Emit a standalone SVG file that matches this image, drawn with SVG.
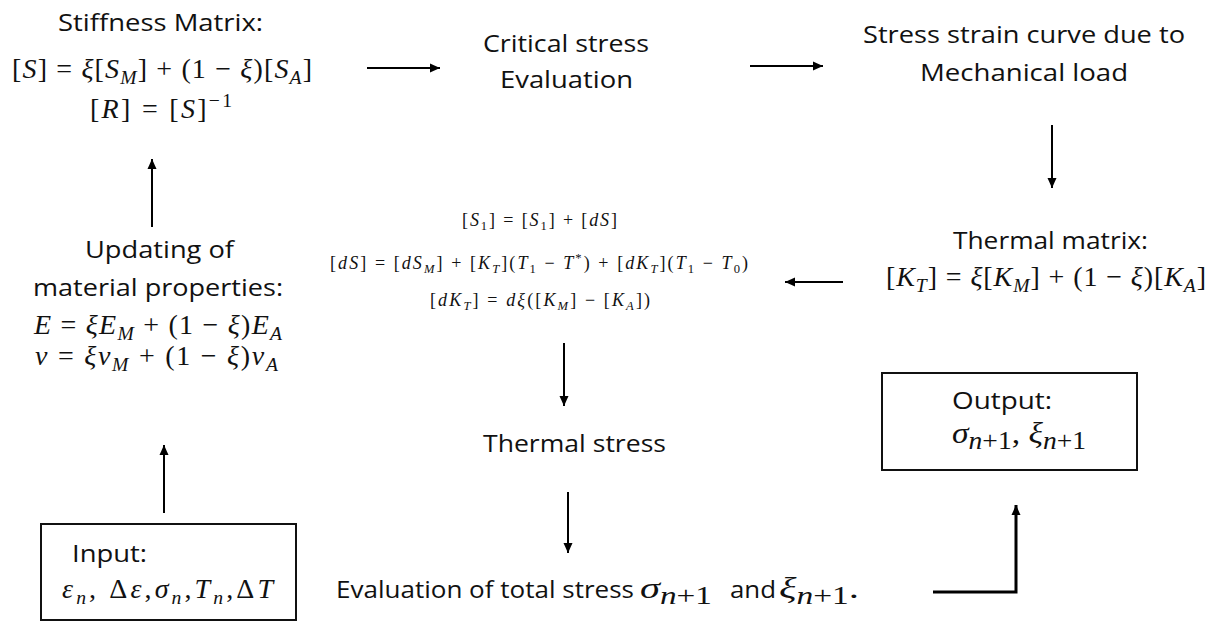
<svg xmlns="http://www.w3.org/2000/svg" width="1217" height="622" viewBox="0 0 1217 622">
<style>
.t{font-family:"Open Sans","Noto Sans",sans-serif;font-size:24px;fill:#111}
.m{font-family:"Liberation Serif","DejaVu Serif",serif;font-size:28px;fill:#111}
.mb{font-family:"Liberation Serif","DejaVu Serif",serif;font-size:30px;fill:#111}
.ms{font-family:"Liberation Serif","DejaVu Serif",serif;font-size:18px;fill:#111}
.i{font-style:italic}
.sb{font-size:70%}
.sb2{font-size:82%}
.box{fill:none;stroke:#111;stroke-width:2}
.c{stroke:#000;stroke-width:2;fill:none}
</style>
<defs>
<marker id="ah" markerUnits="userSpaceOnUse" markerWidth="10" markerHeight="10" refX="10" refY="5" orient="auto">
<path d="M0,0.5 L10,5 L0,9.5 z" fill="#000"/>
</marker>
</defs>
<rect width="1217" height="622" fill="#fff"/>

<g id="stiffness">
<text class="t" x="58" y="31" textLength="205" lengthAdjust="spacingAndGlyphs">Stiffness Matrix:</text>
<text class="m" x="12" y="78" textLength="300" lengthAdjust="spacing">[<tspan class="i">S</tspan>] = <tspan class="i">ξ</tspan>[<tspan class="i">S</tspan><tspan class="i sb" dy="6">M</tspan><tspan dy="-6">] + (1 − </tspan><tspan class="i">ξ</tspan>)[<tspan class="i">S</tspan><tspan class="i sb" dy="6">A</tspan><tspan dy="-6">]</tspan></text>
<text class="m" x="90" y="118" textLength="142" lengthAdjust="spacing">[<tspan class="i">R</tspan>] = [<tspan class="i">S</tspan>]<tspan class="sb" dy="-11">−1</tspan></text>
</g>

<g id="critical">
<text class="t" x="483" y="52" textLength="166" lengthAdjust="spacingAndGlyphs">Critical stress</text>
<text class="t" x="500" y="88" textLength="133" lengthAdjust="spacingAndGlyphs">Evaluation</text>
</g>

<g id="stress-strain">
<text class="t" x="863" y="43" textLength="322" lengthAdjust="spacingAndGlyphs">Stress strain curve due to</text>
<text class="t" x="920" y="81" textLength="208" lengthAdjust="spacingAndGlyphs">Mechanical load</text>
</g>

<g id="thermal-matrix">
<text class="t" x="953" y="249" textLength="195" lengthAdjust="spacingAndGlyphs">Thermal matrix:</text>
<text class="m" x="886" y="286" textLength="320" lengthAdjust="spacing">[<tspan class="i">K</tspan><tspan class="i sb" dy="6">T</tspan><tspan dy="-6">] = </tspan><tspan class="i">ξ</tspan>[<tspan class="i">K</tspan><tspan class="i sb" dy="6">M</tspan><tspan dy="-6">] + (1 − </tspan><tspan class="i">ξ</tspan>)[<tspan class="i">K</tspan><tspan class="i sb" dy="6">A</tspan><tspan dy="-6">]</tspan></text>
</g>

<g id="thermal-update">
<text class="ms" x="462" y="226" textLength="155" lengthAdjust="spacing">[<tspan class="i">S</tspan><tspan class="sb" dy="4">1</tspan><tspan dy="-4">] = [</tspan><tspan class="i">S</tspan><tspan class="sb" dy="4">1</tspan><tspan dy="-4">] + [</tspan><tspan class="i">dS</tspan>]</text>
<text class="ms" x="330" y="269" textLength="418" lengthAdjust="spacing">[<tspan class="i">dS</tspan>] = [<tspan class="i">dS</tspan><tspan class="i sb" dy="4">M</tspan><tspan dy="-4">] + [</tspan><tspan class="i">K</tspan><tspan class="i sb" dy="4">T</tspan><tspan dy="-4">](</tspan><tspan class="i">T</tspan><tspan class="sb" dy="4">1</tspan><tspan dy="-4"> − </tspan><tspan class="i">T</tspan><tspan class="sb" dy="-7">*</tspan><tspan dy="7">) + [</tspan><tspan class="i">dK</tspan><tspan class="i sb" dy="4">T</tspan><tspan dy="-4">](</tspan><tspan class="i">T</tspan><tspan class="sb" dy="4">1</tspan><tspan dy="-4"> − </tspan><tspan class="i">T</tspan><tspan class="sb" dy="4">0</tspan><tspan dy="-4">)</tspan></text>
<text class="ms" x="430" y="306" textLength="220" lengthAdjust="spacing">[<tspan class="i">dK</tspan><tspan class="i sb" dy="4">T</tspan><tspan dy="-4">] = </tspan><tspan class="i">dξ</tspan>([<tspan class="i">K</tspan><tspan class="i sb" dy="4">M</tspan><tspan dy="-4">] − [</tspan><tspan class="i">K</tspan><tspan class="i sb" dy="4">A</tspan><tspan dy="-4">])</tspan></text>
</g>

<g id="updating">
<text class="t" x="85" y="258" textLength="149" lengthAdjust="spacingAndGlyphs">Updating of</text>
<text class="t" x="33" y="296" textLength="250" lengthAdjust="spacingAndGlyphs">material properties:</text>
<text class="m" x="34" y="334" textLength="248" lengthAdjust="spacing"><tspan class="i">E</tspan> = <tspan class="i">ξE</tspan><tspan class="i sb" dy="6">M</tspan><tspan dy="-6"> + (1 − </tspan><tspan class="i">ξ</tspan>)<tspan class="i">E</tspan><tspan class="i sb" dy="6">A</tspan></text>
<text class="m" x="35" y="365" textLength="243" lengthAdjust="spacing"><tspan class="i">ν</tspan> = <tspan class="i">ξν</tspan><tspan class="i sb" dy="6">M</tspan><tspan dy="-6"> + (1 − </tspan><tspan class="i">ξ</tspan>)<tspan class="i">ν</tspan><tspan class="i sb" dy="6">A</tspan></text>
</g>

<g id="thermal-stress">
<text class="t" x="483" y="452" textLength="183" lengthAdjust="spacingAndGlyphs">Thermal stress</text>
</g>

<g id="output">
<rect class="box" x="882" y="373" width="255" height="97"/>
<text class="t" x="952" y="409" textLength="100" lengthAdjust="spacingAndGlyphs">Output:</text>
<text class="mb" x="952" y="443" textLength="134" lengthAdjust="spacingAndGlyphs"><tspan class="i">σ</tspan><tspan class="sb2" dy="6"><tspan class="i">n</tspan>+1</tspan><tspan dy="-6">, </tspan><tspan class="i">ξ</tspan><tspan class="sb2" dy="6"><tspan class="i">n</tspan>+1</tspan></text>
</g>

<g id="input">
<rect class="box" x="41" y="524" width="255" height="96"/>
<text class="t" x="72" y="562" textLength="75" lengthAdjust="spacingAndGlyphs">Input:</text>
<text class="m" x="62" y="598" textLength="211" lengthAdjust="spacing"><tspan class="i">ε</tspan><tspan class="i sb" dy="6">n</tspan><tspan dy="-6">, Δ</tspan><tspan class="i">ε</tspan>,<tspan class="i">σ</tspan><tspan class="i sb" dy="6">n</tspan><tspan dy="-6">,</tspan><tspan class="i">T</tspan><tspan class="i sb" dy="6">n</tspan><tspan dy="-6">,Δ</tspan><tspan class="i">T</tspan></text>
</g>

<g id="total-stress">
<text class="t" x="336" y="598" textLength="298" lengthAdjust="spacingAndGlyphs">Evaluation of total stress</text>
<text class="mb" x="640" y="598" textLength="72" lengthAdjust="spacingAndGlyphs"><tspan class="i">σ</tspan><tspan class="sb2" dy="6"><tspan class="i">n</tspan>+1</tspan></text>
<text class="t" x="730" y="598" textLength="46" lengthAdjust="spacingAndGlyphs">and</text>
<text class="mb" x="779" y="598" textLength="80" lengthAdjust="spacingAndGlyphs"><tspan class="i">ξ</tspan><tspan class="sb2" dy="6"><tspan class="i">n</tspan>+1</tspan><tspan dy="-6">.</tspan></text>
</g>

<g id="connectors">
<line class="c" x1="367" y1="68" x2="440" y2="68" marker-end="url(#ah)"/>
<line class="c" x1="750" y1="66" x2="823" y2="66" marker-end="url(#ah)"/>
<line class="c" x1="1052" y1="125" x2="1052" y2="188" marker-end="url(#ah)"/>
<line class="c" x1="843" y1="282" x2="785" y2="282" marker-end="url(#ah)"/>
<line class="c" x1="564" y1="343" x2="564" y2="406" marker-end="url(#ah)"/>
<line class="c" x1="568" y1="492" x2="568" y2="553" marker-end="url(#ah)"/>
<line class="c" x1="164" y1="513" x2="164" y2="445" marker-end="url(#ah)"/>
<line class="c" x1="152" y1="227" x2="152" y2="159" marker-end="url(#ah)"/>
<polyline class="c" style="stroke-width:3" points="933,592 1016,592 1016,505" marker-end="url(#ah)"/>
</g>
</svg>
